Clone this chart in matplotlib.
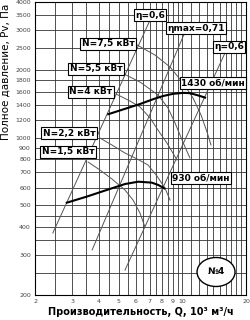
import numpy as np
import matplotlib.pyplot as plt
from matplotlib.patches import Ellipse
from matplotlib.ticker import FixedLocator, NullLocator

# rpm curves (Q, 10^3 m3/h ; P, Pa)
q_1430 = [4.45, 5.25, 6.3, 7.25, 8.1, 9.05, 10.1, 10.85, 11.7, 12.8]
p_1430 = [1270, 1335, 1410, 1480, 1530, 1565, 1580, 1575, 1545, 1505]
q_930 = [2.83, 3.52, 4.37, 5.34, 6.17, 7.15, 7.68, 8.2]
p_930 = [514, 547, 585, 622, 637, 631, 616, 595]

# efficiency lines
q_eta_left = [2.43, 7.02]
p_eta_left = [377, 3327]
q_eta_max = [3.73, 10.28]
p_eta_max = [317, 2944]
q_eta_right = [5.34, 15.9]
p_eta_right = [258, 2375]

# power lines
q_n75 = [6.09, 7.41, 8.73, 10.06, 11.22, 12.24, 13.07, 13.65]
p_n75 = [2578, 2326, 2058, 1747, 1499, 1260, 1059, 927]
q_n55 = [5.28, 6.29, 7.66, 8.54, 9.22, 10.28, 10.85]
p_n55 = [1916, 1765, 1546, 1353, 1161, 908, 812]
q_n4 = [4.84, 5.64, 6.29, 7.02, 7.82, 8.44, 9.42]
p_n4 = [1562, 1453, 1367, 1222, 1048, 946, 795]
q_n22 = [4.06, 4.63, 5.34, 6.09, 6.86, 7.57, 8.26, 8.73]
p_n22 = [996, 927, 854, 804, 756, 675, 597, 528]
q_n15 = [3.57, 4.06, 4.63, 5.34, 5.83, 6.29, 6.64]
p_n15 = [779, 718, 655, 585, 528, 462, 401]

x_ticks = [2, 3, 4, 5, 6, 7, 8, 9, 10, 20]
y_ticks = [200, 300, 400, 500, 600, 700, 800, 900, 1000, 1200, 1400,
           1600, 1800, 2000, 2500, 3000, 3500, 4000]
x_grid = list(np.arange(2, 10.01, 0.5)) + list(range(11, 21))
y_grid = [200, 250, 300, 350, 400, 450, 500, 600, 700, 800, 900, 1000,
          1200, 1400, 1600, 1800, 2000, 2500, 3000, 3500, 4000]

fig = plt.figure(figsize=(2.5, 3.2), dpi=100)
ax = fig.add_axes([35 / 250, 1 - 295 / 320, 211 / 250, 293 / 320])
ax.set_xscale('log')
ax.set_yscale('log')
ax.set_xlim(2, 20)
ax.set_ylim(200, 4000)

for g in x_grid:
    ax.axvline(g, color='#333333', lw=0.6, zorder=1)
for g in y_grid:
    ax.axhline(g, color='#333333', lw=0.6, zorder=1)

ax.xaxis.set_major_locator(FixedLocator(x_ticks))
ax.xaxis.set_minor_locator(NullLocator())
ax.set_xticklabels([str(t) for t in x_ticks])
ax.yaxis.set_major_locator(FixedLocator(y_ticks))
ax.yaxis.set_minor_locator(NullLocator())
ax.set_yticklabels([str(t) for t in y_ticks])
ax.tick_params(length=0, labelsize=4.5, pad=3, colors='#444444')
for s in ax.spines.values():
    s.set_linewidth(0.8)

thin = dict(color='#555555', lw=0.7, zorder=2)
for q, p in [(q_eta_left, p_eta_left), (q_eta_max, p_eta_max),
             (q_eta_right, p_eta_right), (q_n75, p_n75), (q_n55, p_n55),
             (q_n4, p_n4), (q_n22, p_n22), (q_n15, p_n15)]:
    ax.plot(q, p, **thin)

ax.plot(q_1430, p_1430, color='black', lw=1.5, zorder=3)
ax.plot(q_930, p_930, color='black', lw=1.5, zorder=3)

box = dict(boxstyle='square,pad=0.15', fc='white', ec='black', lw=0.8)
labels = [
    (7.02, 3500, 'η=0,6'),
    (11.6, 3066, 'ηmax=0,71'),
    (16.6, 2526, 'η=0,6'),
    (13.95, 1747, '1430 об/мин'),
    (12.24, 662, '930 об/мин'),
    (4.44, 2605, 'N=7,5 кВт'),
    (3.89, 2017, 'N=5,5 кВт'),
    (3.68, 1594, 'N=4 кВт'),
    (2.90, 1048, 'N=2,2 кВт'),
    (2.87, 863, 'N=1,5 кВт'),
]
for x, y, t in labels:
    ax.text(x, y, t, ha='center', va='center', fontsize=6.5,
            fontweight='bold', bbox=box, zorder=5)

ax.add_patch(Ellipse((0.858, 0.0785), 0.18, 0.099, transform=ax.transAxes,
                     fc='white', ec='black', lw=1.0, zorder=5))
ax.text(0.858, 0.0785, '№4', transform=ax.transAxes, ha='center',
        va='center', fontsize=6.5, fontweight='bold', zorder=6)

ax.set_xlabel('Производительность, Q, 10³ м³/ч', fontsize=7,
              fontweight='bold', labelpad=2)
ax.set_ylabel('Полное давление, Pv, Па', fontsize=7.5, labelpad=4)
ax.yaxis.set_label_coords(-0.115, 0.76)

fig.savefig('out.png', dpi=100)
